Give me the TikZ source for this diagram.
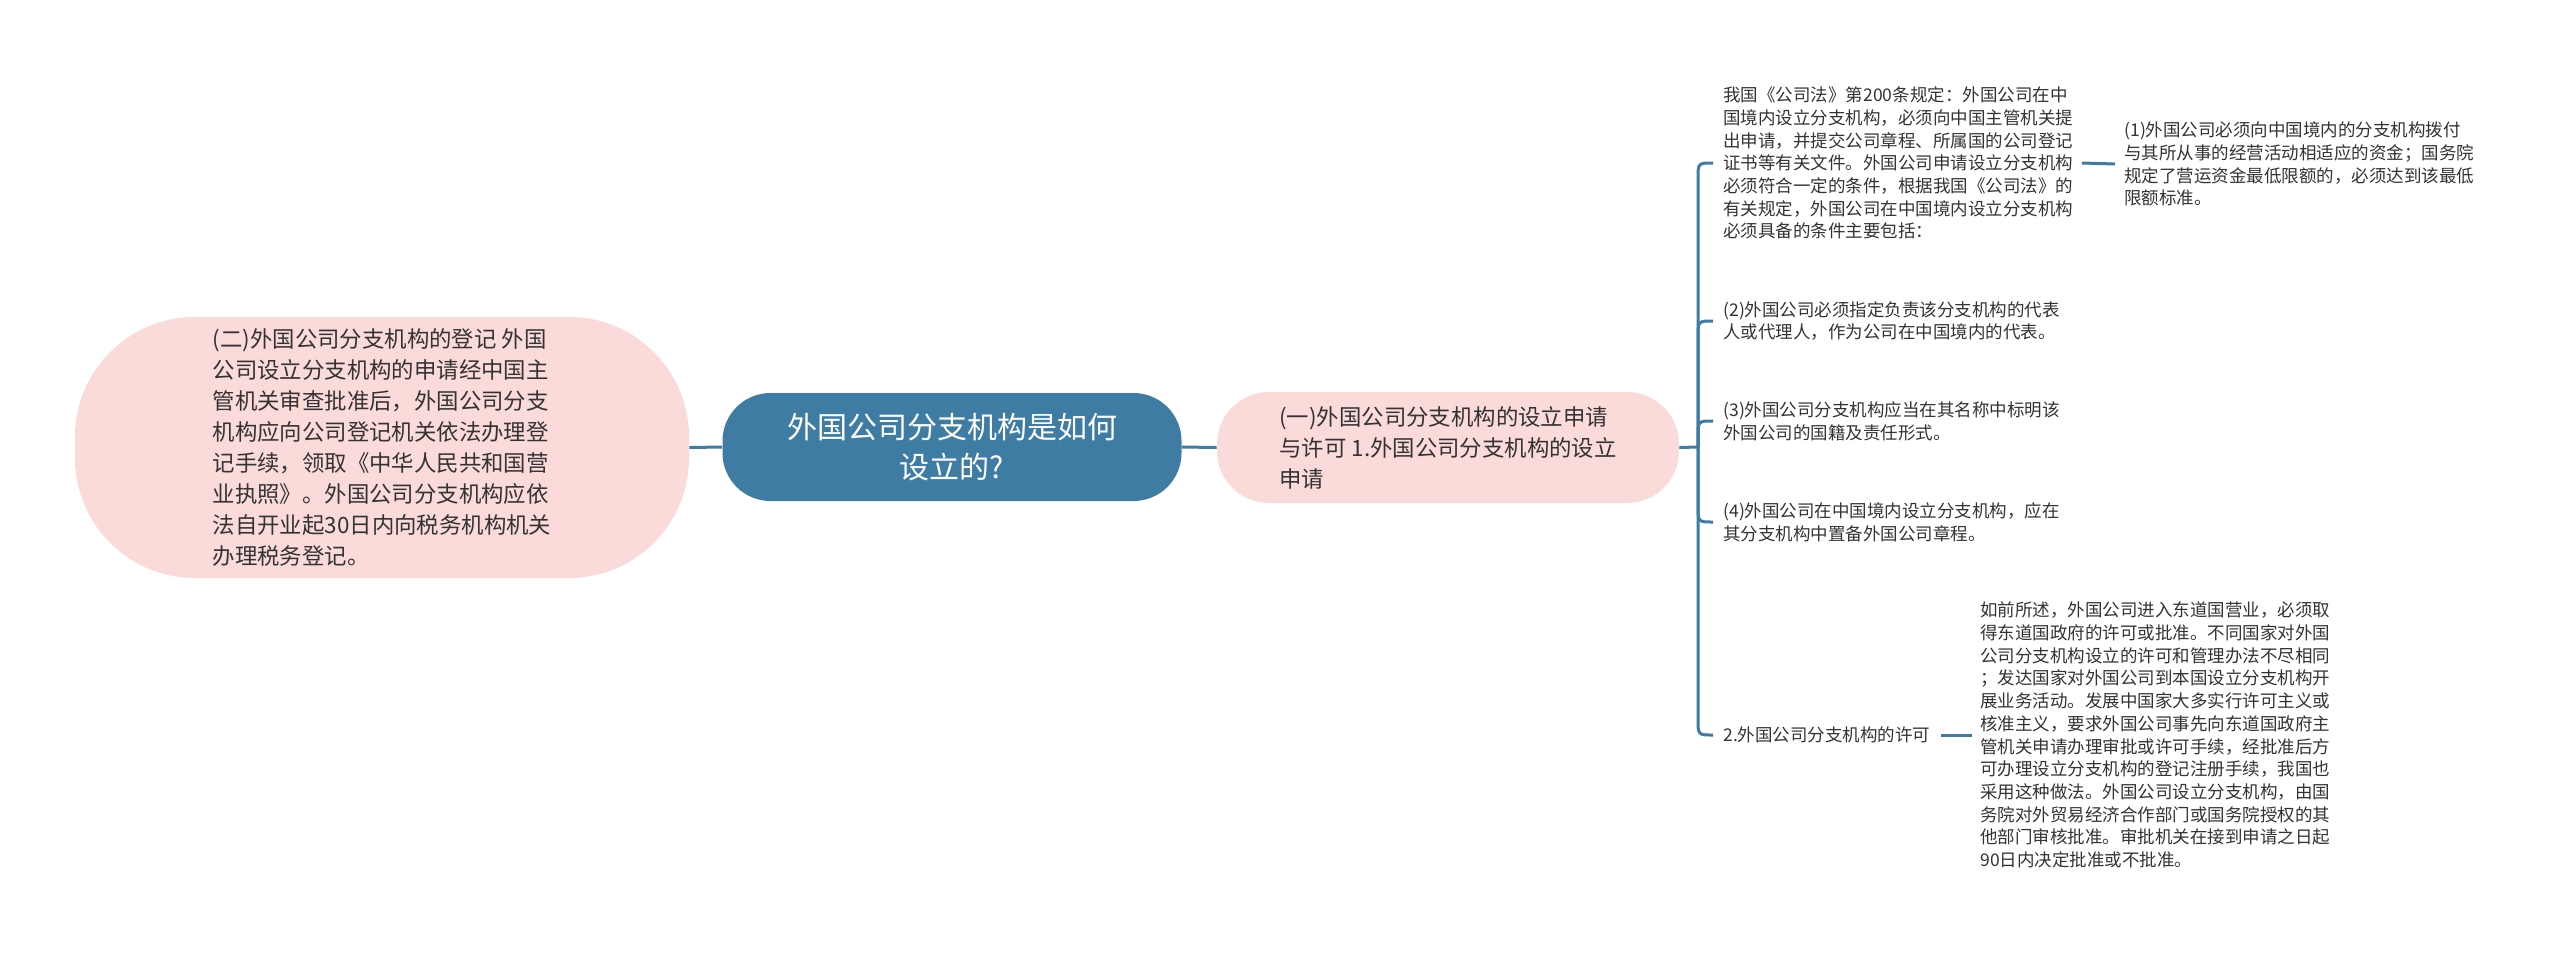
\documentclass[tikz,border=0pt]{standalone}
\usepackage{fontspec}
\setmainfont{Noto Sans CJK SC}
\usetikzlibrary{calc}
\definecolor{mainblue}{HTML}{3E7CA3}
\definecolor{pinkfill}{HTML}{FBDADA}
\definecolor{txt}{HTML}{333333}
\begin{document}
\begin{tikzpicture}[x=0.5pt,y=-0.5pt,
  conn/.style={draw=mainblue, line width=1.5pt},
  rootbox/.style={fill=mainblue, text=white, rounded corners=24pt, minimum width=229.5pt, minimum height=54pt, align=center, inner sep=0pt, font=\fontsize{15}{20}\selectfont},
  pinkbox/.style={fill=pinkfill, text=txt, align=left, inner sep=0pt, font=\fontsize{11.2}{15.5}\selectfont},
  leaf/.style={text=txt, align=left, inner sep=0pt, anchor=west, font=\fontsize{8.75}{11.35}\selectfont}
]
\useasboundingbox (0,0) rectangle (2560,954);
\fill[white] (0,0) rectangle (2560,954);

\node[rootbox] (root) at (952,447) {外国公司分支机构是如何\\设立的?};
\node[pinkbox, rounded corners=60pt, minimum width=307pt, minimum height=130.5pt] (left) at (382,447.5)
  {(二)外国公司分支机构的登记 外国\\公司设立分支机构的申请经中国主\\管机关审查批准后，外国公司分支\\机构应向公司登记机关依法办理登\\记手续，领取《中华人民共和国营\\业执照》。外国公司分支机构应依\\法自开业起30日内向税务机构机关\\办理税务登记。};
\node[pinkbox, rounded corners=26pt, minimum width=231pt, minimum height=55.5pt] (sub) at (1448,447.5)
  {(一)外国公司分支机构的设立申请\\与许可 1.外国公司分支机构的设立\\申请};

\node[leaf] (b1) at (1723,163) {我国《公司法》第200条规定：外国公司在中\\国境内设立分支机构，必须向中国主管机关提\\出申请，并提交公司章程、所属国的公司登记\\证书等有关文件。外国公司申请设立分支机构\\必须符合一定的条件，根据我国《公司法》的\\有关规定，外国公司在中国境内设立分支机构\\必须具备的条件主要包括：};
\node[leaf] (c1) at (2124,164) {(1)外国公司必须向中国境内的分支机构拨付\\与其所从事的经营活动相适应的资金；国务院\\规定了营运资金最低限额的，必须达到该最低\\限额标准。};
\node[leaf] (b2) at (1723,321) {(2)外国公司必须指定负责该分支机构的代表\\人或代理人，作为公司在中国境内的代表。};
\node[leaf] (b3) at (1723,421) {(3)外国公司分支机构应当在其名称中标明该\\外国公司的国籍及责任形式。};
\node[leaf] (b4) at (1723,522) {(4)外国公司在中国境内设立分支机构，应在\\其分支机构中置备外国公司章程。};
\node[leaf] (b5) at (1723,735) {2.外国公司分支机构的许可};
\node[leaf] (d5) at (1980,735) {如前所述，外国公司进入东道国营业，必须取\\得东道国政府的许可或批准。不同国家对外国\\公司分支机构设立的许可和管理办法不尽相同\\；发达国家对外国公司到本国设立分支机构开\\展业务活动。发展中国家大多实行许可主义或\\核准主义，要求外国公司事先向东道国政府主\\管机关申请办理审批或许可手续，经批准后方\\可办理设立分支机构的登记注册手续，我国也\\采用这种做法。外国公司设立分支机构，由国\\务院对外贸易经济合作部门或国务院授权的其\\他部门审核批准。审批机关在接到申请之日起\\90日内决定批准或不批准。};

\coordinate (j) at (1698,447);
\draw[conn] (root.west) -- (left.east);
\draw[conn] (root.east) -- (sub.west);
\draw[conn] (sub.east) -- (j);
\draw[conn] (j) -- ($(j |- b1.west)+(0,16)$) .. controls (j |- b1.west) .. ($(b1.west)+(-10,0)$);
\draw[conn] (j) -- ($(j |- b2.west)+(0,16)$) .. controls (j |- b2.west) .. ($(b2.west)+(-10,0)$);
\draw[conn] (j) -- ($(j |- b3.west)+(0,16)$) .. controls (j |- b3.west) .. ($(b3.west)+(-10,0)$);
\draw[conn] (j) -- ($(j |- b4.west)+(0,-16)$) .. controls (j |- b4.west) .. ($(b4.west)+(-10,0)$);
\draw[conn] (j) -- ($(j |- b5.west)+(0,-16)$) .. controls (j |- b5.west) .. ($(b5.west)+(-10,0)$);
\draw[conn] ($(b1.east)+(8,0)$) -- ($(c1.west)+(-9,0)$);
\draw[conn] ($(b5.east)+(10,0)$) -- ($(d5.west)+(-8,0)$);
\end{tikzpicture}
\end{document}
